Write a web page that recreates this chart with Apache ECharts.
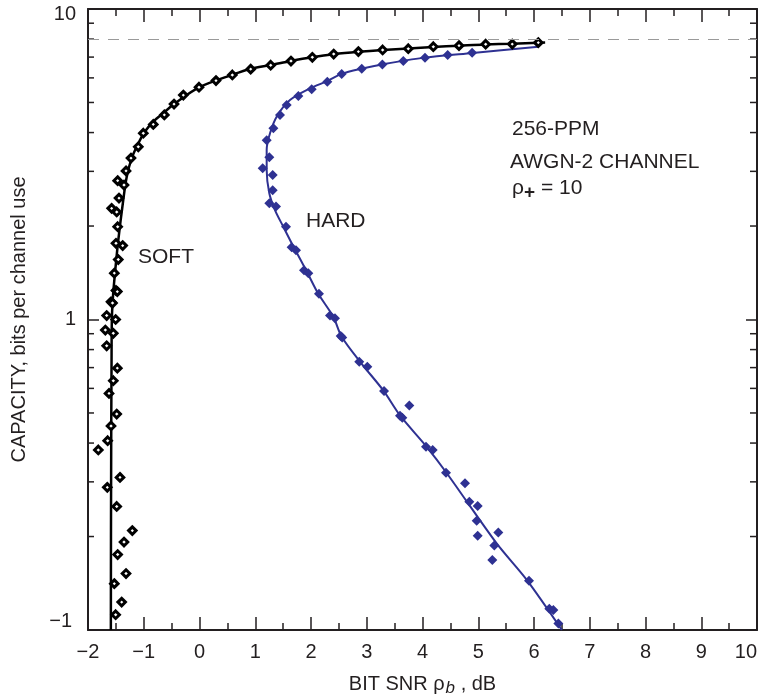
<!DOCTYPE html>
<html>
<head>
<meta charset="utf-8">
<script src="https://cdn.jsdelivr.net/npm/echarts@6.0.0/dist/echarts.min.js"></script>
<style>
  html, body { margin: 0; padding: 0; background: #fff; overflow: hidden; }
  #chart { width: 759px; height: 698px; }
</style>
</head>
<body>
<div id="chart"></div>
<script>
// SOFT decision curve and simulated points, [bit SNR dB, capacity]
const softCurve = [
  [-1.59, 0.1], [-1.588, 0.2], [-1.585, 0.33], [-1.582, 0.5], [-1.578, 0.7], [-1.572, 1.0],
  [-1.55, 1.2], [-1.516, 1.41], [-1.457, 1.8], [-1.367, 2.43], [-1.305, 2.88], [-1.216, 3.31],
  [-1.098, 3.69], [-0.978, 4.03], [-0.829, 4.34], [-0.619, 4.67], [-0.44, 4.97], [0.0, 5.6],
  [0.6, 6.15], [0.906, 6.41], [1.28, 6.6], [1.64, 6.8], [2.02, 6.99], [2.41, 7.15], [2.85, 7.28],
  [3.29, 7.38], [3.75, 7.46], [4.19, 7.55], [4.66, 7.62], [5.13, 7.69], [5.61, 7.73], [6.08, 7.79], [6.2, 7.8]
];
const softPoints = [
  [-1.468, 2.80], [-1.354, 2.71], [-1.444, 2.46], [-1.576, 2.28], [-1.485, 2.22], [-1.468, 1.99],
  [-1.318, 3.01], [-1.229, 3.31], [-1.098, 3.60], [-1.008, 3.98], [-0.829, 4.25], [-0.631, 4.56],
  [-0.457, 4.94], [-0.29, 5.28], [-0.009, 5.60], [0.296, 5.88], [0.589, 6.13], [0.918, 6.40],
  [1.277, 6.59], [1.641, 6.80], [2.024, 6.99], [2.407, 7.16], [2.85, 7.29], [3.285, 7.38],
  [3.745, 7.45], [4.194, 7.56], [4.655, 7.62], [5.133, 7.70], [5.61, 7.71], [6.077, 7.79],
  [-1.498, 1.76], [-1.378, 1.73], [-1.457, 1.56], [-1.528, 1.41], [-1.498, 1.24], [-1.474, 1.23],
  [-1.587, 1.14], [-1.56, 1.13], [-1.665, 1.03], [-1.504, 1.0], [-1.689, 0.925], [-1.546, 0.903],
  [-1.665, 0.823], [-1.474, 0.697], [-1.546, 0.635], [-1.623, 0.578], [-1.485, 0.496], [-1.587, 0.454],
  [-1.647, 0.407], [-1.815, 0.38], [-1.426, 0.31], [-1.654, 0.288], [-1.485, 0.25], [-1.205, 0.209],
  [-1.354, 0.192], [-1.468, 0.175], [-1.318, 0.152], [-1.528, 0.141], [-1.396, 0.123], [-1.504, 0.112]
];

// HARD decision curve and simulated points
const hardCurve = [
  [6.08, 7.56], [4.9, 7.22], [4.0, 6.96], [3.3, 6.64], [2.9, 6.42], [2.55, 6.18], [2.29, 5.86],
  [1.982, 5.55], [1.623, 5.09], [1.384, 4.5], [1.265, 3.98], [1.205, 3.52], [1.205, 3.03],
  [1.252, 2.55], [1.354, 2.25], [1.503, 1.99], [1.683, 1.72], [1.922, 1.43], [2.131, 1.21],
  [2.4, 1.02], [2.55, 0.88], [2.91, 0.72], [3.3, 0.59], [3.6, 0.49], [4.075, 0.389], [4.43, 0.321],
  [5.33, 0.19], [5.87, 0.145], [6.5, 0.1]
];
const hardPoints = [
  [4.89, 7.23], [4.452, 7.11], [4.045, 6.97], [3.656, 6.80], [3.28, 6.62], [2.91, 6.42], [2.55, 6.18],
  [2.293, 5.83], [2.012, 5.51], [1.773, 5.25], [1.564, 4.91], [1.444, 4.56], [1.325, 4.13], [1.205, 3.78],
  [1.252, 3.33], [1.133, 3.07], [1.313, 2.92], [1.313, 2.61], [1.252, 2.37], [1.372, 2.31], [1.552, 1.99],
  [1.653, 1.71], [1.731, 1.67], [1.874, 1.44], [1.952, 1.41], [2.143, 1.21], [2.341, 1.03], [2.43, 1.01],
  [2.533, 0.885], [2.56, 0.875], [2.866, 0.731], [3.01, 0.705], [3.31, 0.588], [3.763, 0.528], [3.596, 0.49],
  [3.638, 0.483], [4.063, 0.389], [4.183, 0.38], [4.422, 0.321], [4.762, 0.297], [4.84, 0.259], [4.99, 0.251],
  [4.972, 0.225], [4.99, 0.201], [5.36, 0.206], [5.288, 0.187], [5.252, 0.168], [5.91, 0.144], [6.275, 0.117],
  [6.347, 0.116], [6.437, 0.105]
];

const capacityLimit = 8; // log2(256)
const xMin = -2, xMax = 10;
const yMin = 0.1, yMax = 10;
const yMinorTicks = [0.2, 0.3, 0.4, 0.5, 0.6, 0.7, 0.8, 0.9, 2, 3, 4, 5, 6, 7, 8, 9];

const FONT = 'Liberation Sans, Arial, Helvetica, sans-serif';
const INK = '#231f20';
const BLUE = '#2e3192';

const chart = echarts.init(document.getElementById('chart'));

const xAxisBase = {
  type: 'value',
  min: xMin,
  max: xMax,
  interval: 1,
  axisLine: { show: true, onZero: false, lineStyle: { color: INK, width: 2 } },
  axisTick: { show: true, inside: true, length: 13, lineStyle: { color: INK, width: 1.5 } },
  minorTick: { show: true, splitNumber: 2, length: 7, lineStyle: { color: INK, width: 1.5 } },
  splitLine: { show: false }
};
const yAxisBase = {
  type: 'log',
  logBase: 10,
  min: yMin,
  max: yMax,
  axisLine: { show: true, onZero: false, lineStyle: { color: INK, width: 2 } },
  axisTick: { show: true, inside: true, length: 11, lineStyle: { color: INK, width: 1.5 } },
  splitLine: { show: false }
};

chart.setOption({
  animation: false,
  backgroundColor: '#fff',
  textStyle: { fontFamily: FONT },
  grid: { left: 88, right: 2, top: 9, bottom: 68, containLabel: false, outerBoundsMode: 'none' },
  xAxis: [
    Object.assign({}, xAxisBase, {
      position: 'bottom',
      name: '{a|BIT SNR ρ}{b|b}{a| , dB}',
      nameLocation: 'middle',
      nameGap: 41,
      nameTextStyle: {
        rich: {
          a: { fontFamily: FONT, fontSize: 20, color: INK },
          b: { fontFamily: FONT, fontSize: 17, fontStyle: 'italic', color: INK, padding: [9, 0, 0, 1] }
        }
      },
      axisLabel: {
        fontFamily: FONT, fontSize: 20, color: INK, margin: 12,
        alignMaxLabel: 'right',
        formatter: v => String(v).replace('-', '\u2212')
      }
    }),
    Object.assign({}, xAxisBase, {
      position: 'top',
      axisLabel: { show: false }
    })
  ],
  yAxis: [
    Object.assign({}, yAxisBase, {
      position: 'left',
      name: 'CAPACITY, bits per channel use',
      nameLocation: 'middle',
      nameGap: 59,
      nameTextStyle: { fontFamily: FONT, fontSize: 20, color: INK },
      axisLabel: {
        fontFamily: FONT, fontSize: 20, color: INK, margin: 12,
        formatter: v => {
          if (Math.abs(v - 0.1) < 1e-6) return '{lo|\u22121}';
          if (Math.abs(v - 10) < 1e-6) return '{hi|10}';
          return String(Math.round(v));
        },
        rich: {
          lo: { fontFamily: FONT, fontSize: 20, color: INK, padding: [0, 4, 17, 0] },
          hi: { fontFamily: FONT, fontSize: 20, color: INK, padding: [10, 0, 0, 0] }
        }
      }
    }),
    Object.assign({}, yAxisBase, {
      position: 'right',
      axisLabel: { show: false }
    })
  ],
  series: [
    {
      name: 'SOFT',
      type: 'line',
      data: softCurve,
      smooth: 0.3,
      showSymbol: false,
      lineStyle: { color: '#000', width: 2.5 },
      z: 3,
      markLine: {
        silent: true,
        symbol: 'none',
        label: { show: false },
        lineStyle: { color: '#9a9a9a', type: [11, 9], width: 1.2 },
        data: [{ yAxis: capacityLimit }]
      }
    },
    {
      name: 'SOFT points',
      type: 'scatter',
      data: softPoints,
      symbol: 'diamond',
      symbolSize: 7.5,
      itemStyle: { color: '#fff', borderColor: '#000', borderWidth: 3, opacity: 1 },
      z: 4
    },
    {
      name: 'HARD',
      type: 'line',
      data: hardCurve,
      smooth: 0.3,
      showSymbol: false,
      lineStyle: { color: BLUE, width: 2 },
      z: 3
    },
    {
      name: 'HARD points',
      type: 'scatter',
      data: hardPoints,
      symbol: 'diamond',
      symbolSize: 10,
      itemStyle: { color: BLUE, opacity: 1 },
      z: 4
    },
    {
      // minor log ticks on left and right frame
      type: 'custom',
      silent: true,
      data: yMinorTicks.map(v => [xMin, v]),
      encode: { x: 0, y: 1 },
      renderItem: (params, api) => {
        const l = api.coord([xMin, api.value(1)]);
        const r = api.coord([xMax, api.value(1)]);
        const st = { stroke: INK, lineWidth: 1.5 };
        return {
          type: 'group',
          children: [
            { type: 'line', shape: { x1: l[0], y1: l[1], x2: l[0] + 6, y2: l[1] }, style: st },
            { type: 'line', shape: { x1: r[0] - 7, y1: r[1], x2: r[0], y2: r[1] }, style: st }
          ]
        };
      },
      z: 2
    }
  ],
  graphic: [
    { type: 'text', left: 512, top: 119, style: { text: '256-PPM', font: '21px ' + FONT, fill: INK } },
    { type: 'text', left: 510, top: 152, style: { text: 'AWGN-2 CHANNEL', font: '21px ' + FONT, fill: INK } },
    {
      type: 'text', left: 512, top: 178,
      style: {
        text: '{a|ρ}{s|+}{a| = 10}',
        rich: {
          a: { fontFamily: FONT, fontSize: 21, fill: INK },
          s: { fontFamily: FONT, fontSize: 19, fontWeight: 'bold', fill: INK, padding: [9, 0, 0, 0] }
        }
      }
    },
    { type: 'text', left: 138, top: 247, style: { text: 'SOFT', font: '21px ' + FONT, fill: INK } },
    { type: 'text', left: 306, top: 211, style: { text: 'HARD', font: '21px ' + FONT, fill: INK } }
  ]
});
</script>
</body>
</html>
